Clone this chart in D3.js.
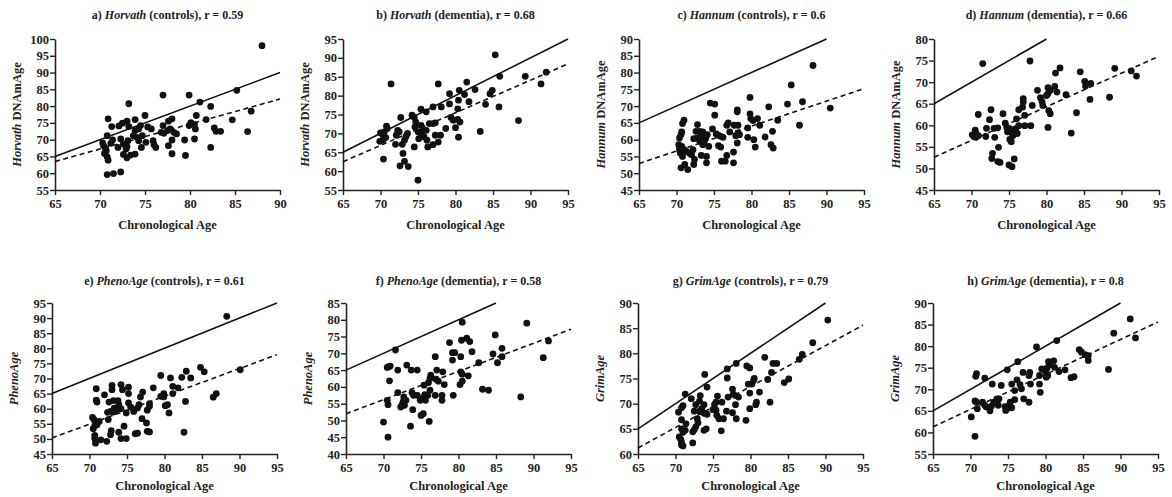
<!DOCTYPE html>
<html>
<head>
<meta charset="utf-8">
<script src="https://cdn.jsdelivr.net/npm/d3@7"></script>
<style>
  body { margin: 0; background: #fff; }
  text { font-family: "Liberation Serif", "Times New Roman", serif; font-weight: bold; fill: #222; }
</style>
</head>
<body>
<svg id="chart" width="1172" height="497"></svg>
<script>
// panel labels
var panelLetters = ["a", "b", "c", "d", "e", "f", "g", "h"];
var clocks = ["Horvath", "Horvath", "Hannum", "Hannum", "PhenoAge", "PhenoAge", "GrimAge", "GrimAge"];
var groups = ["controls", "dementia", "controls", "dementia", "controls", "dementia", "controls", "dementia"];
var rValues = ["0.59", "0.68", "0.6", "0.66", "0.61", "0.58", "0.79", "0.8"];
var yLabelSuffix = [" DNAmAge", " DNAmAge", " DNAmAge", " DNAmAge", "", "", "", ""];
var xLabel = "Chronological Age";

// axis ranges
var xDomains = [[65, 90], [65, 95], [65, 95], [65, 95], [65, 95], [65, 95], [65, 95], [65, 95]];
var yDomains = [[55, 100], [55, 95], [45, 90], [45, 80], [45, 95], [40, 85], [60, 90], [55, 90]];

// regression line: y at left end, y at right end of x range
var fitLines = [[63.5, 82.1], [62.5, 88.4], [52.9, 75.2], [52.6, 76.0], [50.3, 77.9], [52.0, 77.2], [61.2, 85.6], [61.3, 85.6]];

// [chronological age, clock age]
var pointsA = [[88.0,98.0],[85.2,84.7],[81.1,81.2],[82.3,79.9],[79.9,83.3],[77.0,83.3],[73.2,80.7],[75.0,77.2],[70.9,76.2],[71.3,73.9],[72.1,74.1],[72.5,74.9],[73.0,75.5],[73.9,76.0],[73.2,73.9],[75.3,73.8],[75.7,73.2],
  [80.5,74.5],[80.7,77.2],[81.8,76.0],[80.1,75.1],[79.9,74.2],[80.6,73.2],[80.5,70.2],[79.4,69.9],[79.5,65.3],
  [78.0,76.2],[77.6,75.5],[77.0,74.2],[77.5,72.7],[77.8,73.2],[78.2,72.2],[78.5,71.7],[78.0,69.9],[77.6,68.2],[78.0,65.8],[76.8,72.2],[77.1,71.9],
  [74.5,74.2],[74.3,73.2],[73.9,72.7],[73.7,71.2],[74.1,70.7],[74.3,69.7],[74.7,71.2],[74.6,67.7],[75.1,69.2],[75.9,69.7],[76.0,68.5],[76.2,67.7],
  [73.1,69.7],[73.0,67.9],[72.9,67.2],[72.6,68.7],[72.3,70.2],[72.0,67.7],[72.6,65.6],[73.0,64.6],[73.4,65.4],[73.9,65.7],
  [70.3,69.0],[70.4,68.2],[70.6,67.5],[70.7,66.7],[70.5,65.9],[70.8,64.9],[70.9,63.9],[70.8,71.2],[71.2,68.9],[71.4,69.9],[70.8,59.6],[71.5,59.9],[72.3,60.4],
  [82.3,67.7],[82.7,73.5],[82.9,72.5],[83.4,72.5],[84.7,75.9],[86.4,72.4],[86.8,78.5]];

var pointsB = [[85.3,90.8],[71.4,83.1],[77.7,83.1],[81.5,83.6],[82.6,81.6],[85.9,85.1],[89.3,85.1],[92.1,86.2],[91.4,83.1],[85.8,77.0],[88.4,73.4],[84.9,81.4],[84.6,80.5],[84.0,77.7],[83.3,70.5],
  [80.5,81.4],[81.2,80.3],[81.8,78.4],[80.4,78.8],[80.3,76.5],[79.2,80.5],[79.2,77.8],[78.1,77.0],[77.0,77.0],[76.1,75.7],[75.4,76.4],
  [74.2,74.8],[74.5,74.2],[74.7,73.0],[74.6,71.7],[75.4,72.1],[75.7,70.8],[76.1,70.8],[75.0,70.4],[75.5,69.5],[75.8,69.1],[76.2,68.2],[75.1,68.6],[76.3,66.4],[77.0,67.0],[77.0,72.6],[77.3,72.8],[77.3,69.5],[76.5,72.6],
  [72.7,74.2],[72.3,70.8],[72.5,70.4],[72.1,69.5],[72.0,67.1],[73.2,68.2],[73.4,69.2],[73.6,70.0],[72.9,67.1],[73.0,64.7],[73.2,62.6],[72.6,61.4],[73.7,61.2],[74.5,66.4],[75.0,57.6],
  [70.8,71.9],[70.9,71.3],[70.5,70.4],[70.4,69.5],[70.0,70.1],[69.9,67.9],[70.3,68.2],[70.7,68.9],[70.4,63.2],
  [78.7,71.3],[78.0,69.5],[77.7,67.7],[80.4,69.0],[79.4,74.2],[79.7,73.5],[80.3,73.7],[80.6,73.0],[80.0,71.5]];

var pointsC = [[88.2,82.1],[85.3,76.3],[86.8,71.3],[84.8,70.6],[90.5,69.4],[86.4,64.3],[79.8,72.6],[82.3,69.8],[83.5,65.8],[82.8,62.5],[82.6,58.5],[82.9,57.5],[81.8,60.8],
  [79.8,67.7],[79.9,66.3],[80.2,65.7],[80.8,66.3],[81.1,64.3],[80.3,60.0],[80.5,57.8],[79.5,60.7],[79.5,63.5],
  [78.1,68.9],[78.1,68.3],[78.2,64.3],[77.7,64.3],[78.2,62.0],[78.4,61.5],[77.9,61.2],[78.1,59.0],[77.6,53.1],[77.6,56.3],
  [76.9,65.0],[76.7,64.3],[77.1,62.3],[76.7,55.3],
  [74.5,70.9],[75.1,70.6],[75.1,67.3],[74.8,63.2],[75.3,61.7],[75.6,61.3],[75.9,61.0],[76.2,60.7],[75.6,58.2],[75.9,57.8],[76.0,53.6],[76.5,53.6],
  [73.9,60.5],[74.1,61.5],[73.7,59.5],[74.3,58.0],[74.0,55.0],[74.0,53.1],
  [72.8,64.5],[72.6,62.5],[73.1,62.5],[73.5,62.3],[73.3,61.0],[72.8,60.5],[72.3,60.3],[73.1,59.5],[73.5,58.5],[73.3,55.3],
  [72.2,57.0],[72.0,55.5],[71.7,56.0],[72.4,54.1],[72.3,52.6],[71.0,57.0],[71.3,56.5],[71.5,51.1],[71.1,52.6],
  [71.0,65.8],[70.8,64.8],[70.7,62.3],[70.6,61.5],[70.4,60.5],[70.3,58.5],[70.4,57.8],[70.4,57.0],[70.7,58.0],[70.5,56.0],[70.8,55.0],[70.6,51.6]];

var pointsD = [[71.5,74.3],[77.8,74.9],[81.8,73.3],[81.2,72.1],[84.5,72.4],[89.1,73.2],[91.3,72.6],[92.0,71.4],[85.1,70.2],[85.9,69.7],[85.2,69.1],[85.8,66.0],[88.4,66.5],[84.0,62.9],[83.3,58.2],[82.6,67.1],
  [81.1,69.0],[81.4,67.7],[80.2,68.7],[80.5,68.1],[80.2,67.3],[80.0,66.9],[80.3,63.4],[80.5,62.7],[80.2,59.5],
  [78.8,68.1],[79.2,66.4],[79.4,65.5],[79.5,64.6],[78.1,64.6],
  [76.9,66.2],[76.9,65.4],[76.8,64.2],[77.1,62.3],[77.1,59.9],[77.9,59.9],
  [76.3,63.6],[76.0,61.5],[76.3,59.9],[75.9,59.2],[76.1,58.1],
  [74.5,60.5],[74.7,59.5],[75.1,59.2],[74.8,58.5],[75.3,58.4],[75.5,57.6],[75.1,56.7],[75.3,56.2],[75.0,50.8],[75.4,50.4],[75.7,52.2],
  [74.2,62.7],[73.5,59.4],[73.1,57.2],[73.6,54.9],[73.5,51.6],[73.8,51.4],
  [72.6,63.6],[72.4,61.3],[72.8,53.5],[72.7,52.3],[73.0,59.3],
  [72.0,59.3],[71.9,57.4],[70.9,62.5],
  [70.5,58.9],[70.6,58.1],[70.1,57.8],[70.3,57.4],[70.6,57.2],[70.9,57.6]];

var pointsE = [[88.3,90.6],[84.8,73.7],[85.3,72.2],[90.1,72.9],[82.9,72.4],[83.5,70.2],[82.3,70.4],[80.8,70.2],[79.5,71.0],[81.8,66.9],[81.1,67.4],[81.1,65.0],
  [79.9,65.0],[79.9,63.9],[79.5,64.1],[80.4,61.3],[80.1,61.0],[80.6,58.6],[82.8,62.4],[82.6,52.2],[86.5,63.8],[86.9,65.0],
  [78.5,66.9],[78.0,61.7],[78.0,60.8],[77.7,59.5],[77.7,52.5],[78.0,52.3],[77.6,55.3],
  [77.1,65.5],[76.8,63.9],[76.6,61.3],[76.4,60.2],[75.9,59.1],[77.0,56.7],[76.1,51.7],[76.4,51.9],
  [75.2,67.1],[75.2,65.0],[75.2,61.9],[75.5,60.5],[74.9,58.6],
  [74.2,68.0],[74.4,66.3],[73.8,62.7],[73.9,61.3],[74.2,60.0],[73.7,59.7],[74.6,54.2],[73.9,52.2],[74.2,50.1],[74.9,50.1],
  [73.0,67.7],[73.0,66.3],[73.2,62.7],[72.6,62.2],[73.3,60.2],[73.2,58.9],[72.8,59.1],[72.9,52.7],[72.8,51.4],
  [72.0,64.6],[72.4,58.8],[72.5,56.4],[72.3,49.2],
  [70.9,66.6],[70.9,62.8],[71.0,62.2],[71.3,55.8],[71.0,54.7],[70.6,56.4],[70.5,53.4],[70.4,57.1],[70.7,54.3],[70.7,51.2],[70.7,50.1],[70.8,48.6],[71.5,49.7]];

var pointsF = [[71.6,71.0],[80.5,79.3],[89.1,79.0],[84.9,75.5],[81.1,74.5],[81.5,73.5],[80.4,73.9],[78.8,73.2],[79.2,70.2],[79.5,70.2],[79.2,68.0],[80.3,69.0],[81.8,70.5],[84.6,69.8],[85.8,71.5],[85.8,69.0],[85.2,67.2],[82.7,67.2],[91.3,68.7],[92.0,73.7],[88.3,57.0],[83.2,59.3],[84.0,59.0],
  [81.3,63.3],[80.3,64.5],[80.5,63.8],[80.5,61.7],[80.2,60.7],[79.3,57.5],
  [76.9,69.0],[77.1,65.0],[77.0,62.3],[77.3,61.7],
  [76.3,63.5],[76.2,62.5],[76.0,61.3],[76.2,59.0],[75.9,57.5],[76.9,57.5],
  [77.9,64.5],[78.1,60.7],[77.8,57.5],[77.8,56.0],
  [75.4,60.5],[75.5,57.7],[75.3,56.7],[75.6,56.0],[74.9,56.0],[75.3,52.0],[75.0,51.5],[76.1,49.7],
  [74.5,65.0],[74.5,57.5],[74.0,57.5],[73.8,58.3],[73.9,53.2],[73.6,48.3],
  [73.1,66.5],[73.7,65.0],[73.0,56.0],[72.6,55.5],[72.5,54.7],[72.8,54.5],[72.3,54.0],[72.7,57.0],
  [71.9,65.0],[71.9,58.3],
  [70.7,66.0],[70.9,66.2],[70.5,65.8],[70.8,61.8],[70.5,56.0],[70.6,54.7],[70.0,49.5],[70.6,45.0]];

var pointsG = [[90.3,86.6],[88.3,82.1],[86.9,79.8],[86.5,78.8],[83.5,78.0],[83.0,78.0],[81.9,79.2],[82.8,76.2],[82.3,74.8],[85.1,74.9],[84.5,74.2],[82.6,70.3],[81.2,72.3],[80.8,70.3],[80.7,69.8],
  [80.5,75.0],[80.4,74.6],[80.2,73.9],[79.7,73.9],[79.9,72.1],[79.9,69.0],[79.5,77.5],[79.9,77.1],[79.4,66.7],
  [78.1,78.0],[76.9,76.9],[76.9,75.1],[77.6,72.9],[77.7,71.9],[78.0,71.6],[78.4,71.3],[77.0,71.3],[76.8,68.5],[78.0,69.8],[78.1,67.0],[77.6,68.2],
  [76.2,70.3],[76.4,67.0],[76.1,64.6],[75.6,71.5],[75.4,70.3],[75.2,69.8],[75.0,68.8],[75.5,67.7],[75.4,68.7],[75.8,67.0],
  [73.9,75.8],[74.2,73.3],[73.8,69.8],[73.5,69.0],[73.8,68.1],[74.2,67.9],[74.1,65.0],[73.8,64.7],
  [73.3,71.6],[73.2,70.5],[72.7,69.8],[72.5,68.5],[73.2,68.5],[72.9,67.0],[73.0,66.2],[72.7,65.4],[72.5,64.8],[72.3,64.4],[72.3,62.2],
  [72.1,71.0],[71.3,71.9],[71.4,66.0],[71.3,64.7],[71.0,64.3],[70.8,66.8],[70.8,69.2],[71.0,69.6],[70.4,68.3],[70.8,65.0],[70.5,63.4],[70.7,62.9],[70.8,62.4],[70.8,61.8],[71.0,61.6]];

var pointsH = [[91.3,86.3],[89.1,83.0],[92.0,81.9],[81.5,81.3],[78.8,79.8],[74.9,74.5],[76.3,76.4],
  [84.5,79.2],[84.8,78.6],[85.3,78.0],[85.7,77.8],[85.7,76.7],[88.4,74.6],[83.4,72.7],[83.8,72.9],[82.6,74.5],[81.8,74.1],
  [81.2,75.1],[81.1,76.6],[80.4,76.4],[80.5,75.7],[80.2,74.9],[80.0,74.2],[80.3,73.2],[80.1,72.8],
  [79.5,74.7],[79.2,73.2],[79.2,71.2],[79.3,69.3],
  [77.9,73.9],[77.8,73.2],[78.0,71.2],[77.0,73.9],[76.6,71.1],[76.8,70.1],
  [76.2,72.2],[75.5,71.2],[75.9,69.7],[77.8,67.0],[77.1,67.8],
  [75.9,67.6],[75.3,67.0],[75.2,66.3],[75.5,65.7],[74.9,65.5],[74.7,65.1],[74.6,66.0],
  [74.1,70.9],[73.8,67.8],[73.5,67.8],[73.7,66.3],[73.1,67.0],[72.8,66.1],[72.6,65.0],
  [72.9,71.2],[71.9,72.6],
  [71.9,66.3],[71.6,67.0],[72.1,65.9],
  [70.8,67.0],[70.6,67.3],[70.9,65.5],[70.7,73.0],[70.8,73.6],[70.1,63.6],[70.6,59.1]];

var allPoints = [pointsA, pointsB, pointsC, pointsD, pointsE, pointsF, pointsG, pointsH];

// layout
var panelLeft = [55, 343, 639, 934, 52, 346, 638, 933];
var rowTop = [39, 303];
var plotW = 225, plotH = 151;
var titleOffset = [-20, -18];     // title baseline relative to plot top
var xTitleOffset = [39, 36];      // x title baseline relative to axis

var svg = d3.select("#chart");

function drawPanel(i) {
  var row = i < 4 ? 0 : 1;
  var left = panelLeft[i], top = rowTop[row];
  var xd = xDomains[i], yd = yDomains[i];

  var x = d3.scaleLinear().domain(xd).range([left, left + plotW]);
  var y = d3.scaleLinear().domain(yd).range([top + plotH, top]);

  var g = svg.append("g");

  // title
  var title = g.append("text")
    .attr("x", left + plotW / 2)
    .attr("y", top + titleOffset[row])
    .attr("text-anchor", "middle")
    .style("font-size", "12px");
  title.append("tspan").text(panelLetters[i] + ") ");
  title.append("tspan").style("font-style", "italic").text(clocks[i]);
  title.append("tspan").text(" (" + groups[i] + "), r = " + rValues[i]);

  // axes
  var xAxis = g.append("g")
    .attr("transform", "translate(0," + (top + plotH) + ")")
    .call(d3.axisBottom(x).tickValues(d3.range(xd[0], xd[1] + 1, 5)).tickSize(5).tickSizeOuter(0).tickPadding(4));
  var yAxis = g.append("g")
    .attr("transform", "translate(" + left + ",0)")
    .call(d3.axisLeft(y).tickValues(d3.range(yd[0], yd[1] + 1, 5)).tickSize(5).tickSizeOuter(0).tickPadding(1));

  [xAxis, yAxis].forEach(function(a) {
    a.select(".domain").attr("stroke", "#222").attr("stroke-width", 1.6);
    a.selectAll(".tick line").attr("stroke", "#222").attr("stroke-width", 1.4);
    a.selectAll(".tick text")
      .style("font-family", "'Liberation Serif', 'Times New Roman', serif")
      .style("font-weight", "bold")
      .style("font-size", "12.5px")
      .attr("fill", "#222");
  });

  // axis titles
  g.append("text")
    .attr("x", left + plotW / 2)
    .attr("y", top + plotH + xTitleOffset[row])
    .attr("text-anchor", "middle")
    .style("font-size", "12.5px")
    .text(xLabel);

  var yt = g.append("text")
    .attr("transform", "translate(" + (left - 34) + "," + (top + plotH / 2) + ") rotate(-90)")
    .attr("text-anchor", "middle")
    .style("font-size", "12.5px");
  yt.append("tspan").style("font-style", "italic").text(clocks[i]);
  if (yLabelSuffix[i]) yt.append("tspan").text(yLabelSuffix[i]);

  // line of identity
  var idEnd = Math.min(xd[1], yd[1]);
  g.append("line")
    .attr("x1", x(65)).attr("y1", y(65))
    .attr("x2", x(idEnd)).attr("y2", y(idEnd))
    .attr("stroke", "#111").attr("stroke-width", 1.6);

  // regression line
  g.append("line")
    .attr("x1", x(xd[0])).attr("y1", y(fitLines[i][0]))
    .attr("x2", x(xd[1])).attr("y2", y(fitLines[i][1]))
    .attr("stroke", "#111").attr("stroke-width", 1.6)
    .attr("stroke-dasharray", "5,3.5");

  // points
  g.selectAll("circle")
    .data(allPoints[i])
    .enter()
    .append("circle")
    .attr("cx", d => x(d[0]))
    .attr("cy", d => y(d[1]))
    .attr("r", 3.4)
    .attr("fill", "#111");
}

for (var i = 0; i < 8; i++) drawPanel(i);
</script>
</body>
</html>
